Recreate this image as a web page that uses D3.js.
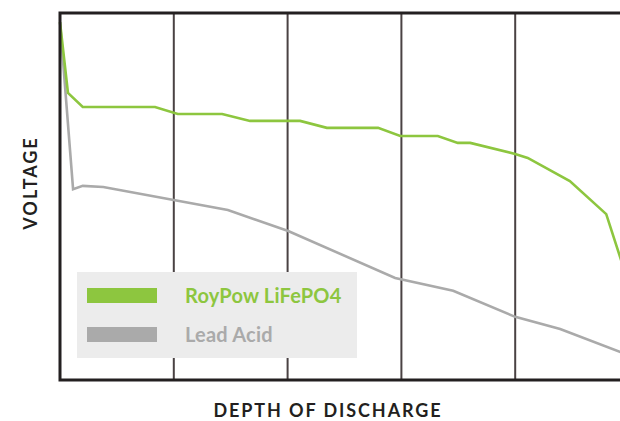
<!DOCTYPE html>
<html>
<head>
<meta charset="utf-8">
<script src="https://cdn.jsdelivr.net/npm/d3@7/dist/d3.min.js"></script>
<style>
  html, body { margin: 0; padding: 0; background: #ffffff; }
  svg { display: block; }
</style>
</head>
<body>
<script>
// Depth of discharge (%) sample positions and voltage (relative, 0-100)
const lifepoDod = [0, 1.4, 4.0, 16.7, 20.7, 28.5, 33.4, 42.2, 46.9, 55.9, 59.8, 66.4, 69.9, 72.1, 80.0, 82.2, 89.6, 96.0, 100];
const lifepoVolt = [97.5, 78.2, 74.4, 74.4, 72.5, 72.5, 70.6, 70.6, 68.7, 68.7, 66.5, 66.5, 64.6, 64.6, 61.6, 60.5, 54.2, 45.2, 26.0];
const leadDod = [0, 2.3, 4.0, 7.6, 29.5, 40.1, 58.9, 69.1, 80.0, 87.9, 100];
const leadVolt = [97.5, 52.0, 52.9, 52.6, 46.3, 40.6, 27.8, 24.3, 17.2, 13.9, 6.7];
const seriesNames = ["RoyPow LiFePO4", "Lead Acid"];
const seriesColors = ["#8dc63f", "#aaaaaa"];
const xTitle = "DEPTH OF DISCHARGE";
const yTitle = "VOLTAGE";

const W = 620, H = 421;
const svg = d3.select("body").append("svg").attr("width", W).attr("height", H);

const x = d3.scaleLinear().domain([0, 100]).range([60, 629]);
const y = d3.scaleLinear().domain([0, 100]).range([380, 13]);

// inner vertical gridlines
svg.append("g").selectAll("line")
  .data(x.ticks(5).filter(d => d > 0 && d < 100))
  .join("line")
  .attr("x1", d => x(d)).attr("x2", d => x(d))
  .attr("y1", y(100)).attr("y2", y(0))
  .attr("stroke", "#4a4243").attr("stroke-width", 2);

const line = d3.line().x(d => x(d[0])).y(d => y(d[1]));

const series = [
  d3.zip(leadDod, leadVolt),
  d3.zip(lifepoDod, lifepoVolt)
];
const colors = [seriesColors[1], seriesColors[0]];
svg.append("g").selectAll("path")
  .data(series)
  .join("path")
  .attr("d", line)
  .attr("fill", "none")
  .attr("stroke", (d, i) => colors[i])
  .attr("stroke-width", 2.6)
  .attr("stroke-linejoin", "miter");

// frame: left, top, bottom
const frame = svg.append("g").attr("stroke", "#231f20").attr("stroke-width", 3).attr("fill", "none");
frame.append("path").attr("d", `M${x(100)},${y(100)}H${x(0)}V${y(0)}H${x(100)}`);

const FONT = "Lato, 'Open Sans', sans-serif";

// legend
const lg = svg.append("g");
lg.append("rect").attr("x", 77).attr("y", 272).attr("width", 280).attr("height", 86).attr("fill", "#ececec");
seriesNames.forEach((name, i) => {
  const yy = 288 + i * 39;
  lg.append("rect").attr("x", 87).attr("y", yy).attr("width", 70).attr("height", 15).attr("fill", seriesColors[i]);
  lg.append("text").attr("x", 185).attr("y", yy + 14.5)
    .attr("fill", seriesColors[i])
    .attr("font-family", FONT)
    .attr("font-weight", 700).attr("font-size", 20)
    .attr("letter-spacing", 0.2)
    .text(name);
});

// axis titles
svg.append("text").attr("x", 328).attr("y", 417)
  .attr("text-anchor", "middle").attr("fill", "#231f20")
  .attr("font-family", FONT)
  .attr("font-weight", 700).attr("font-size", 18)
  .attr("letter-spacing", 1.9)
  .text(xTitle);
svg.append("text")
  .attr("transform", "translate(37,183) rotate(-90)")
  .attr("text-anchor", "middle").attr("fill", "#231f20")
  .attr("font-family", FONT)
  .attr("font-weight", 700).attr("font-size", 18)
  .attr("letter-spacing", 2)
  .text(yTitle);
</script>
</body>
</html>
